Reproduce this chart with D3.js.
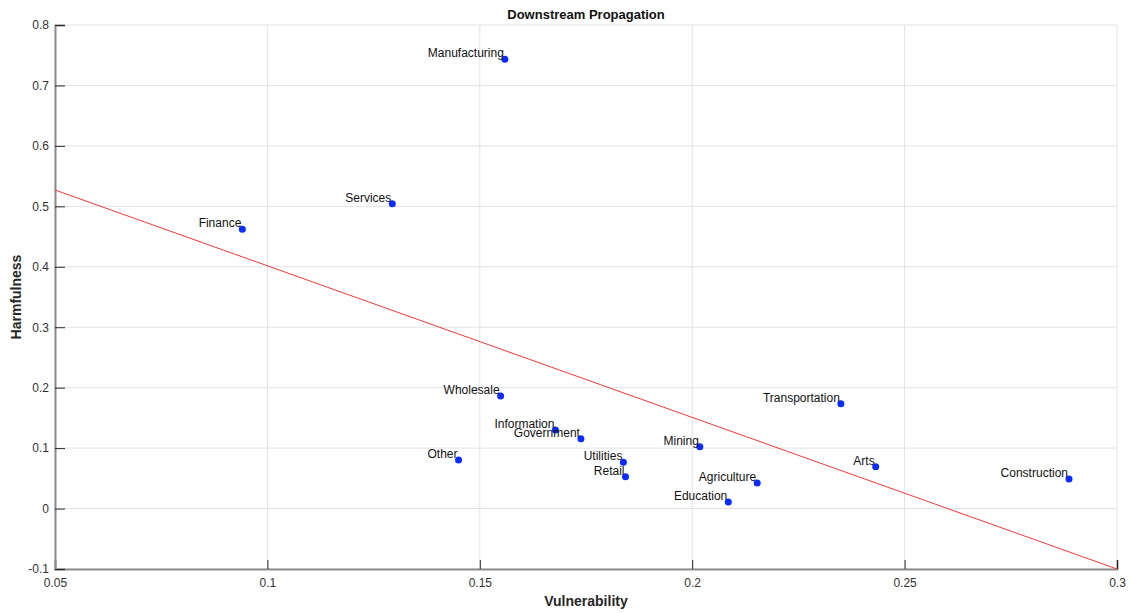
<!DOCTYPE html>
<html>
<head>
<meta charset="utf-8">
<script src="https://cdn.jsdelivr.net/npm/d3@7"></script>
<style>
  body { margin: 0; background: #fff; }
  text { font-family: "Liberation Sans", Arial, sans-serif; }
</style>
</head>
<body>
<script>
// chart size, same as the browser window
var width = 1133,
    height = 613;

// data
var sectors = ["Manufacturing", "Services", "Finance", "Wholesale", "Information",
  "Government", "Other", "Utilities", "Retail", "Mining", "Transportation",
  "Arts", "Agriculture", "Education", "Construction"];
var vulnerability = [0.1559, 0.1294, 0.0941, 0.1549, 0.1678,
  0.1738, 0.1450, 0.1838, 0.1843, 0.2018, 0.2350,
  0.2432, 0.2153, 0.2085, 0.2887];
var harmfulness = [0.7433, 0.5043, 0.4620, 0.1862, 0.1300,
  0.1155, 0.0803, 0.0765, 0.0527, 0.1023, 0.1734,
  0.0692, 0.0422, 0.0110, 0.0488];

// fitted line, two end points
var fitX = [0.05, 0.3];
var fitY = [0.527, -0.1];

// tick labels
var xTicks = [0.05, 0.1, 0.15, 0.2, 0.25, 0.3];
var yTicks = [-0.1, 0, 0.1, 0.2, 0.3, 0.4, 0.5, 0.6, 0.7, 0.8];

// plot box (window.top is taken, so own names)
var boxLeft = 55, boxRight = 1117, boxTop = 25, boxBottom = 569;

var x = d3.scaleLinear().domain([0.05, 0.3]).range([boxLeft, boxRight]);
var y = d3.scaleLinear().domain([-0.1, 0.8]).range([boxBottom, boxTop]);

var svg = d3.select("body")
    .append("svg")
    .attr("width", width)
    .attr("height", height);

// grid lines
svg.append("g")
    .selectAll("line")
    .data(xTicks)
    .enter().append("line")
    .attr("x1", function(d) { return x(d); })
    .attr("x2", function(d) { return x(d); })
    .attr("y1", boxTop)
    .attr("y2", boxBottom)
    .attr("stroke", "#e3e3e3")
    .attr("stroke-width", 1);

svg.append("g")
    .selectAll("line")
    .data(yTicks)
    .enter().append("line")
    .attr("x1", boxLeft)
    .attr("x2", boxRight)
    .attr("y1", function(d) { return y(d); })
    .attr("y2", function(d) { return y(d); })
    .attr("stroke", "#e3e3e3")
    .attr("stroke-width", 1);

// axes, ticks pointing inwards like matlab
var xAxis = svg.append("g")
    .attr("transform", "translate(0," + boxBottom + ")")
    .call(d3.axisBottom(x).tickValues(xTicks).tickSize(-9).tickPadding(9)
      .tickFormat(function(d) { return String(+d.toFixed(2)); }));

var yAxis = svg.append("g")
    .attr("transform", "translate(" + boxLeft + ",0)")
    .call(d3.axisLeft(y).tickValues(yTicks).tickSize(-10).tickPadding(6)
      .tickFormat(function(d) { return String(+d.toFixed(1)); }));

[xAxis, yAxis].forEach(function(a) {
  a.select(".domain").attr("stroke", "#8c8c8c").attr("stroke-width", 2);
  a.selectAll(".tick line").attr("stroke", "#262626");
  a.selectAll(".tick text")
    .attr("fill", "#333")
    .style("font-size", "12px");
});

// fitted line, clipped to the box
svg.append("clipPath")
    .attr("id", "clip")
    .append("rect")
    .attr("x", boxLeft).attr("y", boxTop)
    .attr("width", boxRight - boxLeft).attr("height", boxBottom - boxTop);

svg.append("path")
    .datum(d3.range(fitX.length))
    .attr("clip-path", "url(#clip)")
    .attr("fill", "none")
    .attr("stroke", "#f0383b")
    .attr("stroke-width", 1)
    .attr("d", d3.line()
      .x(function(i) { return x(fitX[i]); })
      .y(function(i) { return y(fitY[i]); }));

// points and their names
var idx = d3.range(sectors.length);

svg.append("g")
    .selectAll("circle")
    .data(idx)
    .enter().append("circle")
    .attr("cx", function(i) { return x(vulnerability[i]); })
    .attr("cy", function(i) { return y(harmfulness[i]); })
    .attr("r", 3.5)
    .attr("fill", "#0a2cff");

svg.append("g")
    .selectAll("text")
    .data(idx)
    .enter().append("text")
    .attr("x", function(i) { return x(vulnerability[i]) - 1; })
    .attr("y", function(i) { return y(harmfulness[i]) - 2; })
    .attr("text-anchor", "end")
    .attr("fill", "#111")
    .style("font-size", "12px")
    .text(function(i) { return sectors[i]; });

// title and axis labels
svg.append("text")
    .attr("x", 586)
    .attr("y", 19)
    .attr("text-anchor", "middle")
    .attr("font-weight", "bold")
    .style("font-size", "13px")
    .attr("fill", "#111")
    .text("Downstream Propagation");

svg.append("text")
    .attr("x", (boxLeft + boxRight) / 2)
    .attr("y", 606)
    .attr("text-anchor", "middle")
    .attr("font-weight", "bold")
    .style("font-size", "14px")
    .attr("fill", "#262626")
    .text("Vulnerability");

svg.append("text")
    .attr("transform", "translate(21," + ((boxTop + boxBottom) / 2) + ") rotate(-90)")
    .attr("text-anchor", "middle")
    .attr("font-weight", "bold")
    .style("font-size", "14px")
    .attr("fill", "#262626")
    .text("Harmfulness");
</script>
</body>
</html>
